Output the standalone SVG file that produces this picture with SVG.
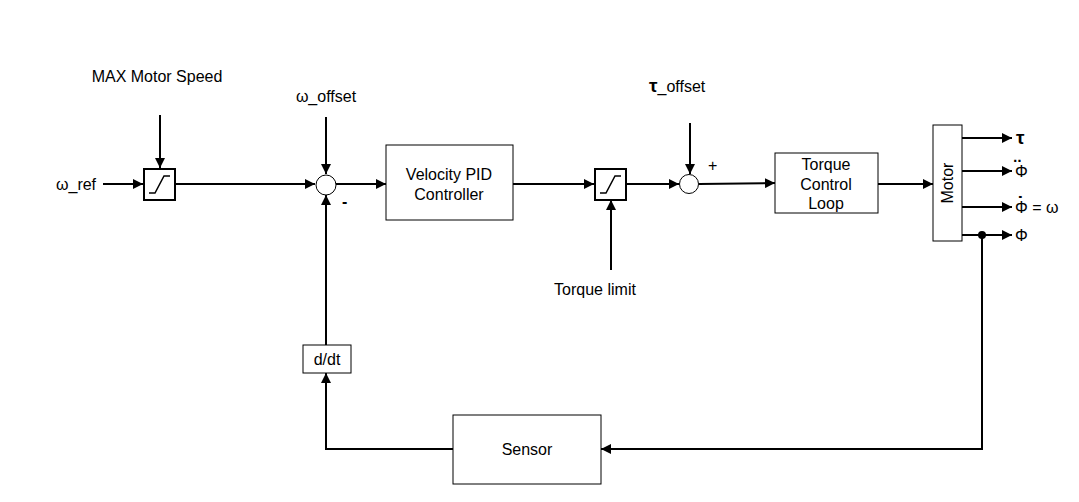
<svg xmlns="http://www.w3.org/2000/svg" width="1079" height="502" viewBox="0 0 1079 502">
<defs>
<marker id="ah" viewBox="0 0 10 10" refX="10" refY="5" markerWidth="10" markerHeight="10" markerUnits="userSpaceOnUse" orient="auto">
<path d="M0,0 L10,5 L0,10 Z" fill="#000"/>
</marker>
</defs>
<style>
text{font-family:"Liberation Sans",Arial,sans-serif;font-size:16px;fill:#000}
.b{fill:#fff;stroke:#000;stroke-width:1}
.sat{fill:#fff;stroke:#000;stroke-width:2}
.c{fill:#fff;stroke:#000;stroke-width:1}
.w{fill:none;stroke:#000;stroke-width:1.5}
.a{fill:none;stroke:#000;stroke-width:2;marker-end:url(#ah)}
.m{text-anchor:middle}
.dot{font-size:20px;font-weight:bold}
</style>
<rect width="1079" height="502" fill="#fff"/>
<g id="connectors">
<path class="a" d="M103,184 H143"/>
<path class="a" d="M160,115 V168"/>
<path class="a" d="M176,184 H315"/>
<path class="a" d="M326,117 V174"/>
<path class="a" d="M336,184 H386"/>
<path class="a" d="M513,184 H594"/>
<path class="a" d="M611,270 V200"/>
<path class="a" d="M627,184 H679"/>
<path class="a" d="M690,123 V174"/>
<path class="a" d="M699,184 L775,183"/>
<path class="a" d="M878,184 H933"/>
<path class="a" d="M962,138 H1012"/>
<path class="a" d="M962,171 H1012"/>
<path class="a" d="M962,207 H1012"/>
<path class="a" d="M962,235 H1012"/>
<path class="a" d="M982,235 V449 H601"/>
<path class="a" d="M453,449 H326 V373"/>
<path class="a" d="M326,345 V195"/>
<circle cx="982" cy="235" r="4" fill="#000"/>
</g>
<g id="labels">
<text x="56" y="190">ω_ref</text>
<text class="m" x="157" y="82">MAX Motor Speed</text>
<text class="m" x="326" y="102">ω_offset</text>
<text x="342" y="207" style="font-weight:bold">-</text>
<text x="649" y="92"><tspan style="font-weight:bold;font-size:19px">τ</tspan>_offset</text>
<text x="708" y="171">+</text>
<text class="m" x="595" y="295">Torque limit</text>
<text x="1016" y="144" style="font-weight:bold;font-size:19px">τ</text>
<text><tspan x="1015" y="177">Φ</tspan><tspan x="1014" y="174" class="dot">¨</tspan></text>
<text><tspan x="1015" y="213">Φ = ω</tspan><tspan x="1017" y="211" class="dot">˙</tspan></text>
<text x="1015" y="241">Φ</text>
</g>
<g id="sat1">
<rect class="sat" x="144" y="169" width="31" height="31"/>
<path class="w" d="M149,193 H155 L164,176 H170"/>
</g>
<g id="sum1"><circle class="c" cx="326" cy="185" r="10"/></g>
<g id="pid">
<rect class="b" x="386" y="145" width="127" height="75"/>
<text class="m" x="449" y="180">Velocity PID</text>
<text class="m" x="449" y="200">Controller</text>
</g>
<g id="sat2">
<rect class="sat" x="595" y="169" width="31" height="31"/>
<path class="w" d="M600,193 H606 L615,176 H621"/>
</g>
<g id="sum2"><circle class="c" cx="689" cy="184" r="9.5"/></g>
<g id="torque">
<rect class="b" x="775" y="153" width="103" height="60"/>
<text class="m" x="826" y="170">Torque</text>
<text class="m" x="826" y="190">Control</text>
<text class="m" x="826" y="209">Loop</text>
</g>
<g id="motor">
<rect class="b" x="933" y="125" width="29" height="116"/>
<text class="m" transform="translate(953,183) rotate(-90)">Motor</text>
</g>
<g id="sensor">
<rect class="b" x="453" y="415" width="148" height="69"/>
<text class="m" x="527" y="455">Sensor</text>
</g>
<g id="ddt">
<rect class="b" x="303" y="345" width="48" height="28"/>
<text class="m" x="327" y="365">d/dt</text>
</g>
</svg>
